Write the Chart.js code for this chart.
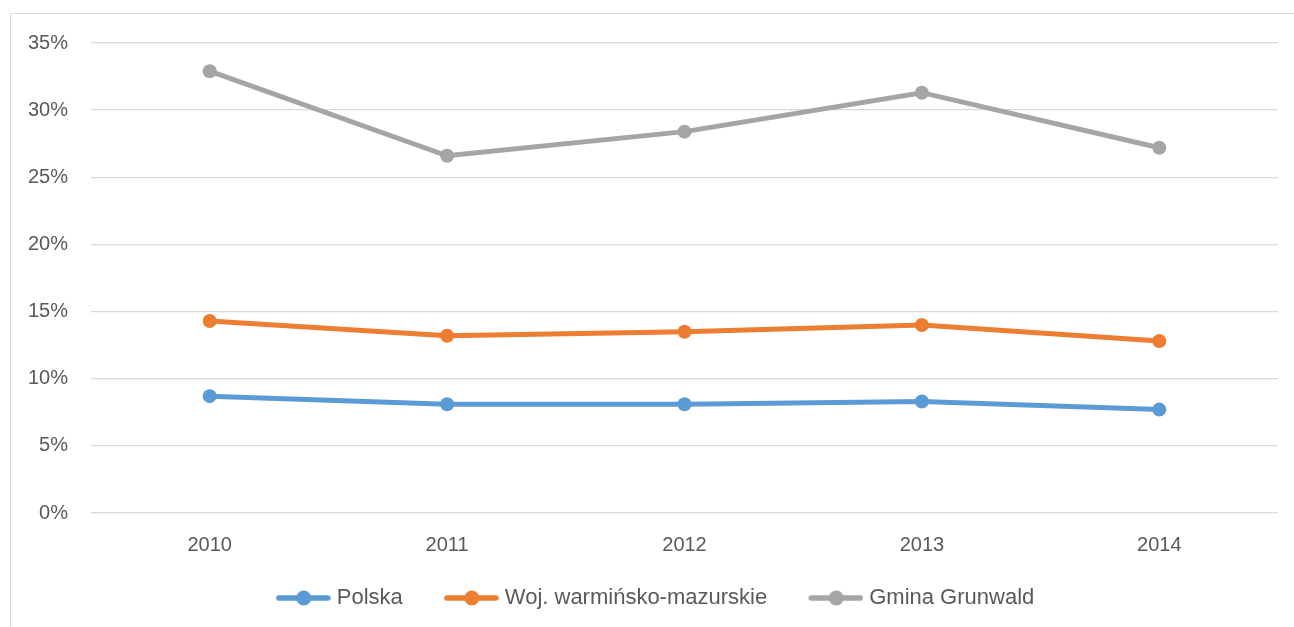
<!DOCTYPE html>
<html lang="pl">
<head>
    <meta charset="UTF-8">
    <title>Polska / Woj. / Gmina Grunwald</title>
    <script src="https://cdn.jsdelivr.net/npm/chart.js"></script>
    <style>
        body { margin: 0; background: #fff; }
        #frame {
            position: absolute; left: 10px; top: 13px;
            width: 1300px; height: 700px;
            border: 1px solid #d9d9d9;
        }
        #wrap { position: absolute; left: 0; top: 0; width: 1294px; height: 627px; }
    </style>
</head>
<body>
    <div id="frame"></div>
    <div id="wrap">
        <canvas id="chart" width="1294" height="627"></canvas>
    </div>
    <script>
        const years = ['2010', '2011', '2012', '2013', '2014'];
        const polska = [8.7, 8.1, 8.1, 8.3, 7.7];
        const warminsko = [14.3, 13.2, 13.5, 14.0, 12.8];
        const grunwald = [32.9, 26.6, 28.4, 31.3, 27.2];
        const seriesNames = ['Polska', 'Woj. warmińsko-mazurskie', 'Gmina Grunwald'];
        const seriesColors = ['#5B9BD5', '#ED7D31', '#A5A5A5'];

        // legend marker: short line with a dot, drawn on a small canvas
        function legendMarker(color) {
            const c = document.createElement('canvas');
            c.width = 92;
            c.height = 16;
            const g = c.getContext('2d');
            g.strokeStyle = color;
            g.lineWidth = 5.5;
            g.lineCap = 'round';
            g.beginPath();
            g.moveTo(40, 8);
            g.lineTo(89, 8);
            g.stroke();
            g.fillStyle = color;
            g.beginPath();
            g.arc(65, 8, 7.5, 0, Math.PI * 2);
            g.fill();
            return c;
        }

        const font = { family: '"Liberation Sans", Arial, sans-serif', size: 20 };
        const legendFont = { family: '"Liberation Sans", Arial, sans-serif', size: 22 };

        const datasets = [polska, warminsko, grunwald].map((vals, i) => ({
            label: seriesNames[i],
            data: vals,
            borderColor: seriesColors[i],
            backgroundColor: seriesColors[i],
            borderWidth: 5,
            pointRadius: 7,
            pointHoverRadius: 7,
            pointBorderWidth: 0,
            tension: 0,
            fill: false
        }));

        new Chart(document.getElementById('chart'), {
            type: 'line',
            data: { labels: years, datasets: datasets },
            options: {
                responsive: false,
                animation: false,
                layout: { padding: { top: 43, right: 16, bottom: 8, left: 0 } },
                plugins: {
                    tooltip: { enabled: false },
                    legend: {
                        position: 'bottom',
                        labels: {
                            usePointStyle: true,
                            pointStyleWidth: 82,
                            padding: 9,
                            color: '#595959',
                            font: legendFont,
                            generateLabels: function(chart) {
                                return chart.data.datasets.map((ds, i) => ({
                                    text: ds.label,
                                    fillStyle: ds.borderColor,
                                    strokeStyle: ds.borderColor,
                                    pointStyle: legendMarker(ds.borderColor),
                                    fontColor: '#595959',
                                    lineWidth: 0,
                                    hidden: false,
                                    datasetIndex: i
                                }));
                            }
                        }
                    }
                },
                scales: {
                    x: {
                        offset: true,
                        grid: { display: false, drawTicks: false },
                        border: { display: false },
                        ticks: { color: '#595959', font: font, padding: 20 },
                        afterFit: function(scale) { scale.height = 65; }
                    },
                    y: {
                        min: 0,
                        max: 35,
                        grid: { color: '#d9d9d9', lineWidth: 1.3, drawTicks: false },
                        border: { display: false },
                        ticks: {
                            stepSize: 5,
                            color: '#595959',
                            font: font,
                            padding: 23,
                            callback: v => v + '%'
                        },
                        afterFit: function(scale) { scale.width = 91; }
                    }
                }
            }
        });
    </script>
</body>
</html>
